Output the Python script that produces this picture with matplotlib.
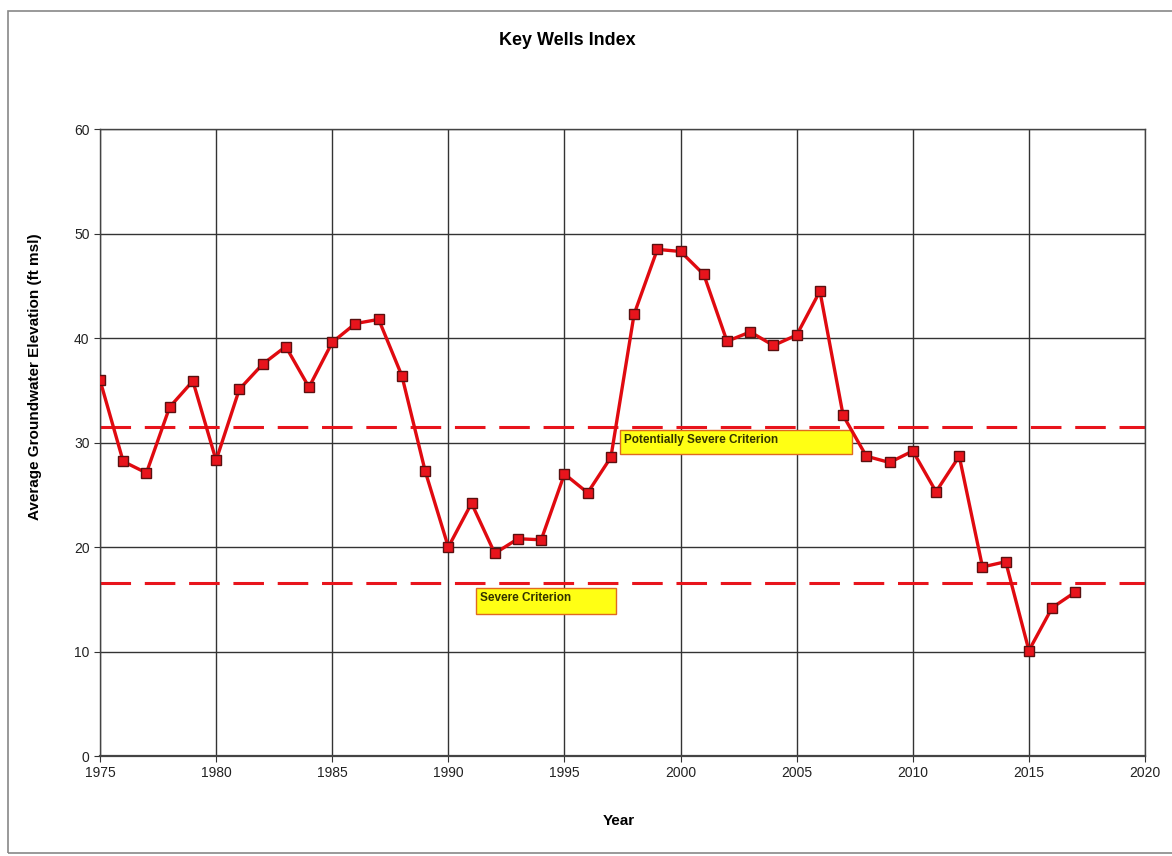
import matplotlib.pyplot as plt
from matplotlib.patches import Rectangle

plt.rcParams['font.family'] = ['Liberation Sans', 'DejaVu Sans']

years = list(range(1975, 2018))
elevation = [
    36.0, 28.2, 27.1, 33.4, 35.9, 28.3, 35.1, 37.5, 39.2, 35.3,
    39.6, 41.4, 41.8, 36.4, 27.3, 20.0, 24.2, 19.4, 20.8, 20.7,
    27.0, 25.2, 28.6, 42.3, 48.5, 48.3, 46.1, 39.7, 40.6, 39.3,
    40.3, 44.5, 32.6, 28.7, 28.1, 29.2, 25.3, 28.7, 18.1, 18.6,
    10.1, 14.2, 15.7,
]

potentially_severe = 31.5
severe = 16.6
criteria_labels = ['Potentially Severe Criterion', 'Severe Criterion']
# label boxes: (x0, x1, y0, y1) in data units
label_boxes = [(1997.4, 2007.4, 28.9, 31.2), (1991.2, 1997.2, 13.6, 16.1)]

fig = plt.figure(figsize=(11.72, 8.56), dpi=100)
ax = fig.add_axes([0.0853, 0.1168, 0.8917, 0.7322])

# scanned page frame
fig.patches.append(Rectangle((0.007, 0.004), 1.2, 0.983, transform=fig.transFigure,
                             fill=False, edgecolor='#888888', linewidth=1.2))

ax.set_xlim(1975, 2020)
ax.set_ylim(0, 60)
ax.set_xticks(range(1975, 2021, 5))
ax.set_yticks(range(0, 61, 10))
ax.grid(True, color='#333333', linewidth=1.0)
ax.set_axisbelow(True)
for spine in ax.spines.values():
    spine.set_color('#444444')
    spine.set_linewidth(1.0)
ax.spines['bottom'].set_linewidth(1.6)
ax.tick_params(labelsize=10, length=4, color='#333333', labelcolor='#222222')

for level in (potentially_severe, severe):
    ax.plot([1975, 2020], [level, level], color='#e8141c', linewidth=2.2,
            dashes=(10, 4.5), zorder=2)

ax.plot(years, elevation, color='#e00a10', linewidth=2.4, marker='s',
        markersize=7, markerfacecolor='#e8141c', markeredgecolor='#5a1010',
        markeredgewidth=1.0, zorder=4)

for label, (x0, x1, y0, y1) in zip(criteria_labels, label_boxes):
    ax.add_patch(Rectangle((x0, y0), x1 - x0, y1 - y0, facecolor='#ffff14',
                           edgecolor='#e06a20', linewidth=1.0, zorder=3))
    ax.text(x0 + 0.15, (y0 + y1) / 2 + 0.25, label, fontsize=8.5, fontweight='bold',
            color='#333300', va='center', ha='left', zorder=5)

fig.text(0.484, 0.953, 'Key Wells Index', ha='center', va='center',
         fontsize=13, fontweight='bold')
ax.set_xlabel('Year', fontsize=11, fontweight='bold')
ax.xaxis.set_label_coords(0.496, -0.092)
ax.set_ylabel('Average Groundwater Elevation (ft msl)', fontsize=11,
              fontweight='bold')
ax.yaxis.set_label_coords(-0.055, 0.606)

fig.savefig('out.png', dpi=100)
